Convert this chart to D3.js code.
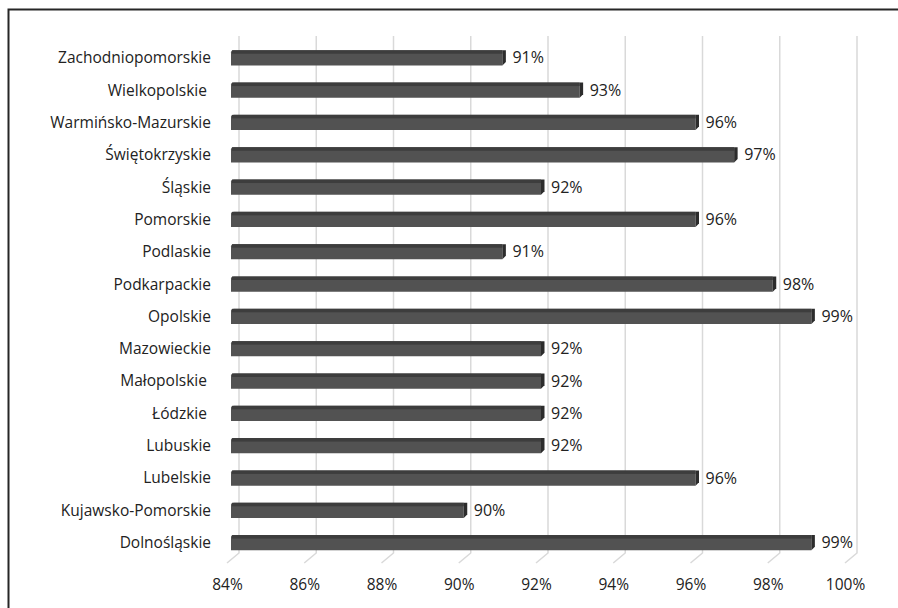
<!DOCTYPE html>
<html><head><meta charset="utf-8">
<script src="https://cdn.jsdelivr.net/npm/d3@7"></script>
<style>
html,body{margin:0;padding:0;background:#fff;}
text{font-family:"Open Sans", sans-serif;fill:#222;}
</style></head>
<body><svg id="c" width="898" height="608"></svg>
<script>
const categories = ["Zachodniopomorskie","Wielkopolskie ","Warmińsko-Mazurskie","Świętokrzyskie","Śląskie","Pomorskie","Podlaskie","Podkarpackie","Opolskie","Mazowieckie","Małopolskie ","Łódzkie ","Lubuskie","Lubelskie","Kujawsko-Pomorskie","Dolnośląskie"];
const values = [91,93,96,97,92,96,91,98,99,92,92,92,92,96,90,99];
const ticks = [84,86,88,90,92,94,96,98,100];

const FS = "15.5px", FSV = "16px";
const svg = d3.select("#c");
svg.append("rect").attr("x",8.5).attr("y",9.5).attr("width",900).attr("height",610)
  .attr("fill","none").attr("stroke","#262626").attr("stroke-width",2);

const dx = 12, dy = 10;          // 3D depth offset
const x = d3.scaleLinear().domain([84,100]).range([227,845]);
const y = d3.scaleBand().domain(categories).range([41.5,559]).paddingInner(0.53).paddingOuter(0.27);
const floorY = 563;

const g = svg.append("g");
ticks.forEach(t=>{
  const xf = x(t), xb = xf+dx;
  g.append("path").attr("d",`M${xb},36 L${xb},${floorY-dy} L${xf},${floorY}`)
   .attr("fill","none").attr("stroke","#d9d9d9").attr("stroke-width",1.5);
});

const ax = d3.axisBottom(x).tickValues(ticks).tickFormat(d=>d+"%").tickSize(0).tickPadding(0);
const axg = svg.append("g").attr("transform",`translate(0,${floorY+16})`).call(ax);
axg.select(".domain").remove();
axg.selectAll("text").attr("font-size",FS).attr("dy","0.71em")
  .style("font-family","'Open Sans', sans-serif").attr("fill","#222");

const off = 5;
const bars = svg.append("g");
categories.forEach((c,i)=>{
  const v = values[i];
  const y0 = y(c), h = y.bandwidth();
  const x0 = x(84)+off-1, x1 = x(v)+off;
  bars.append("path").attr("d",`M${x0},${y0+2} Q${x0},${y0} ${x0+3},${y0} L${x1},${y0} L${x1},${y0+h} L${x0},${y0+h} Z`)
    .attr("fill","#525252");
  bars.append("rect").attr("x",x0+1).attr("y",y0).attr("width",x1-x0-1).attr("height",3.5).attr("fill","#3d3d3d");
  bars.append("path").attr("d",`M${x1},${y0} L${x1+3.5},${y0} L${x1+3.5},${y0+h-3.5} L${x1},${y0+h} Z`)
    .attr("fill","#2c2c2c");
  bars.append("text").attr("x",x1+10).attr("y",y0+h/2).attr("dy","0.35em")
    .attr("font-size",FSV).text(v+"%");
  bars.append("text").attr("x",211).attr("y",y0+h/2).attr("dy","0.35em")
    .attr("text-anchor","end").attr("font-size",FS).style("white-space","pre").text(c);
});
</script></body></html>
